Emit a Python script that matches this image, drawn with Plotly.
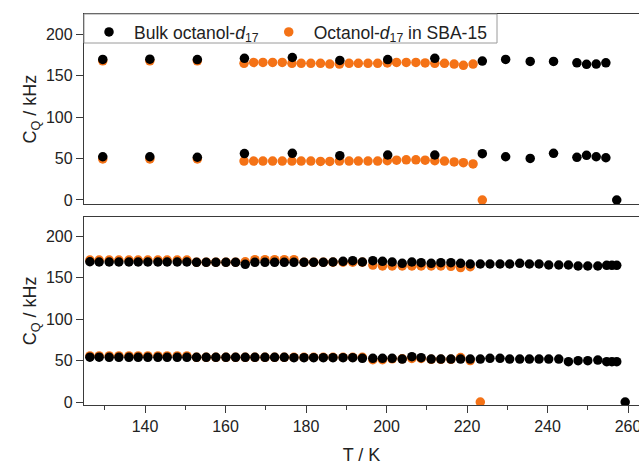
import plotly.graph_objects as go

# ---------------- data ----------------
# top panel: bulk octanol-d17
T_bulk_top = [129.5, 141.2, 153.0, 164.7, 176.6, 188.4, 200.3, 212.0, 223.8, 229.6,
              235.7, 241.5, 247.3, 249.7, 252.1, 254.5]
CQ1_bulk_top = [169.7, 170.0, 169.5, 171.0, 172.0, 168.5, 169.5, 171.0, 167.7, 169.7,
                167.3, 167.3, 165.6, 163.7, 164.0, 165.6]
CQ2_bulk_top = [52.2, 52.2, 51.6, 56.0, 56.3, 53.5, 54.3, 54.3, 55.9, 52.2,
                50.2, 56.3, 51.5, 53.9, 52.2, 51.0]
T_bulk_top_zero = [257.2]

# top panel: octanol-d17 in SBA-15
T_sba_top = [129.5, 141.2, 153.0, 164.6, 167.0, 169.3, 171.7, 174.1, 176.5, 178.8,
             181.2, 183.6, 185.9, 188.3, 190.7, 193.0, 195.4, 197.8, 200.2, 202.5,
             204.9, 207.3, 209.6, 212.0, 214.4, 216.8, 219.1, 221.5]
CQ1_sba_top = [168.0, 168.0, 168.0, 165.0, 166.0, 166.0, 166.0, 166.0, 165.0, 165.0,
               165.0, 165.0, 164.0, 164.0, 165.0, 165.0, 165.0, 165.0, 165.5, 166.0,
               166.0, 166.0, 165.5, 165.0, 165.0, 164.0, 162.5, 164.0]
CQ2_sba_top = [49.5, 49.5, 49.5, 47.0, 47.0, 47.0, 47.0, 47.0, 47.0, 47.0,
               47.0, 46.5, 46.5, 47.0, 47.0, 47.0, 47.0, 47.0, 47.5, 48.0,
               48.5, 48.5, 48.0, 47.5, 47.0, 46.0, 45.0, 43.5]
T_sba_top_zero = [223.8]

# bottom panel: bulk octanol-d17
T_bulk_bot = [126.3, 128.6, 131.1, 133.5, 136.0, 138.3, 140.7, 143.2, 145.5, 148.0,
              150.4, 152.8, 155.2, 157.6, 160.1, 162.5, 164.9, 167.3, 169.8, 172.2,
              174.6, 177.0, 179.5, 181.9, 184.3, 186.7, 189.2, 191.6, 194.0, 196.6,
              199.0, 201.4, 203.9, 206.3, 208.6, 211.1, 213.5, 216.0, 218.4, 220.8,
              223.3, 225.7, 228.2, 230.6, 233.1, 235.5, 237.9, 240.3, 242.8, 245.2,
              247.6, 250.0, 252.5, 254.7, 256.0, 257.2]
CQ1_bulk_bot = [169.0, 168.7, 168.7, 168.7, 168.7, 168.7, 168.7, 168.7, 168.7, 168.7,
                168.7, 168.3, 168.3, 168.3, 168.3, 168.3, 165.9, 168.3, 168.3, 168.3,
                168.3, 168.3, 168.3, 168.3, 168.3, 168.7, 169.5, 170.3, 168.7, 170.3,
                169.5, 168.7, 167.1, 168.7, 167.9, 167.1, 167.9, 167.9, 167.1, 166.3,
                166.3, 166.3, 166.3, 166.3, 167.1, 166.3, 166.3, 165.1, 165.1, 165.1,
                163.9, 163.9, 163.9, 164.7, 164.7, 164.7]
CQ2_bulk_bot = [54.0, 54.0, 53.8, 53.8, 53.8, 53.8, 53.8, 53.8, 53.8, 53.8,
                53.8, 53.8, 53.8, 53.8, 53.8, 53.8, 53.8, 53.8, 53.8, 53.8,
                53.8, 53.4, 53.4, 53.4, 53.4, 53.4, 53.4, 53.4, 52.6, 52.6,
                52.6, 52.6, 51.8, 54.6, 53.4, 51.8, 51.8, 51.8, 51.8, 51.8,
                51.8, 52.6, 52.6, 51.8, 51.8, 51.8, 51.8, 51.8, 51.8, 48.6,
                49.8, 49.8, 50.6, 48.6, 48.6, 48.6]
T_bulk_bot_zero = [259.3]

# bottom panel: octanol-d17 in SBA-15
T_sba_bot = [126.3, 128.6, 131.1, 133.5, 136.0, 138.3, 140.7, 143.2, 145.5, 148.0,
             150.4, 152.8, 155.2, 157.6, 160.1, 162.5, 164.9, 167.3, 169.8, 172.2,
             174.6, 177.0, 179.5, 181.9, 184.3, 186.7, 189.2, 191.6, 194.0, 196.6,
             199.0, 201.4, 203.9, 206.3, 208.6, 211.1, 213.5, 216.0, 218.4, 220.8]
CQ1_sba_bot = [171.0, 171.0, 171.0, 171.0, 171.0, 171.0, 171.0, 171.0, 171.0, 171.0,
               171.0, 168.5, 168.5, 168.5, 168.5, 168.5, 169.0, 171.5, 171.5, 171.5,
               171.5, 171.5, 168.5, 168.5, 168.5, 168.5, 168.5, 168.5, 168.5, 165.0,
               164.0, 164.0, 164.0, 164.0, 164.0, 164.0, 164.0, 163.5, 162.0, 163.0]
CQ2_sba_bot = [55.5, 55.5, 55.5, 55.5, 55.5, 55.5, 55.5, 55.5, 55.5, 55.5,
               55.5, 53.8, 53.8, 53.8, 53.8, 53.8, 53.8, 53.8, 53.8, 53.8,
               53.8, 53.8, 53.8, 53.8, 53.8, 53.8, 53.8, 53.8, 53.8, 51.0,
               51.0, 52.0, 52.0, 52.5, 52.5, 51.5, 51.5, 51.5, 53.5, 50.0]
T_sba_bot_zero = [223.3]

series_names = ["Bulk octanol-<i>d</i><sub>17</sub>", "Octanol-<i>d</i><sub>17</sub> in SBA-15"]
y_ticks = [0, 50, 100, 150, 200]

# ---------------- style ----------------
BLACK = "#000000"
ORANGE = "#F47216"
AXC = "#3a3a3a"
FONT = "Liberation Sans, Arial, sans-serif"
MS = 9.5

W, H = 639, 471
ML, MR, MT, MB = 84, 0, 14, 66
plot_h = H - MT - MB
plot_w = W - ML - MR


def py(pix):  # pixel y -> paper y
    return (H - MB - pix) / plot_h


def px(pix):
    return (pix - ML) / plot_w


fig = go.Figure()


def add(xs_list, ys_list, color, name, xa, ya, show, rank):
    xs, ys = [], []
    for a in xs_list:
        xs += a
    for b in ys_list:
        ys += b
    fig.add_trace(go.Scatter(
        x=xs, y=ys, mode="markers", name=name, xaxis=xa, yaxis=ya,
        showlegend=show, legendrank=rank,
        marker=dict(color=color, size=MS, line=dict(width=0)),
        hoverinfo="skip"))


# orange drawn first (beneath black)
add([T_sba_top, T_sba_top, T_sba_top_zero], [CQ1_sba_top, CQ2_sba_top, [0]],
    ORANGE, series_names[1], "x", "y", True, 2)
add([T_bulk_top, T_bulk_top, T_bulk_top_zero], [CQ1_bulk_top, CQ2_bulk_top, [0]],
    BLACK, series_names[0], "x", "y", True, 1)
add([T_sba_bot, T_sba_bot, T_sba_bot_zero], [CQ1_sba_bot, CQ2_sba_bot, [0]],
    ORANGE, series_names[1], "x2", "y2", False, 4)
add([T_bulk_bot, T_bulk_bot, T_bulk_bot_zero], [CQ1_bulk_bot, CQ2_bulk_bot, [0]],
    BLACK, series_names[0], "x2", "y2", False, 3)

xr = [124.84, 262.73]
common = dict(showline=True, linecolor=AXC, linewidth=1.3, showgrid=False, zeroline=False,
              automargin=False,
              tickcolor=AXC, tickwidth=1.3, tickfont=dict(size=16, color="#222", family=FONT))

yt = dict(text="C<sub>Q</sub> / kHz", font=dict(size=18, color="#222", family=FONT), standoff=4)

fig.update_layout(
    width=W, height=H,
    margin=dict(l=ML, r=MR, t=MT, b=MB, pad=0, autoexpand=False),
    paper_bgcolor="white", plot_bgcolor="white",
    font=dict(family=FONT, color="#222"),
    showlegend=True,
    legend=dict(orientation="h", x=0, y=1, xanchor="left", yanchor="top",
                bgcolor="rgba(0,0,0,0)", borderwidth=0,
                font=dict(size=17.5, color="#222", family=FONT),
                itemwidth=40, traceorder="normal"),
    xaxis=dict(domain=[0, 1], range=xr, anchor="y", mirror=True, ticks="",
               showticklabels=False, **common),
    yaxis=dict(domain=[py(204.3), 1], range=[-5.2, 224.5], anchor="x",
               tickvals=y_ticks, ticks="outside", ticklen=7, title=yt, **common),
    xaxis2=dict(domain=[0, 1], range=xr, anchor="y2", mirror=True, ticks="outside",
                ticklen=7, tick0=0, dtick=20, ticklabeloverflow="allow",
                minor=dict(dtick=10, ticks="outside", ticklen=4, tickcolor=AXC, tickwidth=1.3),
                title=dict(text="T / K", font=dict(size=18, color="#222", family=FONT), standoff=14),
                **common),
    yaxis2=dict(domain=[0, py(216.7)], range=[-3.6, 223.3], anchor="x2",
                tickvals=y_ticks, ticks="outside", ticklen=7, title=yt, **common),
    shapes=[dict(type="rect", xref="paper", yref="paper",
                 x0=0, x1=px(497), y0=py(43), y1=1,
                 line=dict(color="#9a9a9a", width=1), fillcolor="rgba(0,0,0,0)", layer="above")],
)

fig.write_html("out.html", config={"displayModeBar": False},
               post_script="document.body.style.margin='0';document.body.style.padding='0';")
